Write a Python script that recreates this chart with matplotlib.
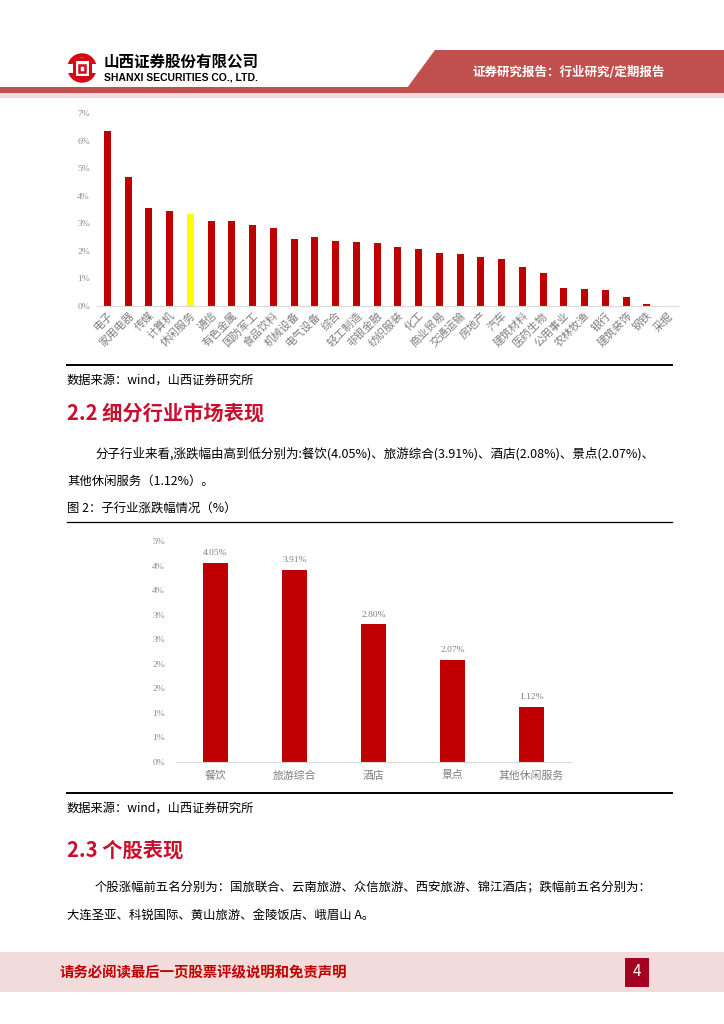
import math
import matplotlib
matplotlib.use("Agg")
import matplotlib.pyplot as plt
from matplotlib.patches import Polygon, Rectangle, Circle
from matplotlib.ticker import FuncFormatter, MultipleLocator

plt.rcParams['font.family'] = ['Noto Sans CJK SC', 'DejaVu Sans']

# ---------------- data ----------------
industries = ["电子", "家用电器", "传媒", "计算机", "休闲服务", "通信", "有色金属", "国防军工",
              "食品饮料", "机械设备", "电气设备", "综合", "轻工制造", "非银金融", "纺织服装",
              "化工", "商业贸易", "交通运输", "房地产", "汽车", "建筑材料", "医药生物",
              "公用事业", "农林牧渔", "银行", "建筑装饰", "钢铁", "采掘"]
industry_returns = [6.34, 4.68, 3.55, 3.43, 3.33, 3.09, 3.08, 2.95, 2.83, 2.43, 2.50, 2.36,
                    2.32, 2.27, 2.15, 2.08, 1.94, 1.88, 1.77, 1.71, 1.43, 1.19, 0.66, 0.61,
                    0.58, 0.34, 0.08, 0.0]
highlight = "休闲服务"

sub_industries = ["餐饮", "旅游综合", "酒店", "景点", "其他休闲服务"]
sub_returns = [4.05, 3.91, 2.80, 2.07, 1.12]

RED = "#C00000"
W, H = 724, 1024
fig = plt.figure(figsize=(W / 100, H / 100), dpi=100)

# overlay axes in pixel coordinates
ov = fig.add_axes([0, 0, 1, 1], zorder=-1)
ov.set_xlim(0, W)
ov.set_ylim(H, 0)
ov.axis("off")

# ---------------- header ----------------
ov.add_patch(Polygon([(435, 50), (W, 50), (W, 88), (407, 88)], closed=True,
                     facecolor="#C0504D", edgecolor="none"))
ov.add_patch(Rectangle((0, 87), W, 6, facecolor="#C0504D", edgecolor="none"))
ov.add_patch(Rectangle((0, 93), W, 5, facecolor="#F2DCDB", edgecolor="none"))
ov.text(569, 72, "证券研究报告：行业研究/定期报告", color="white", fontsize=9.0,
        fontweight="bold", ha="center", va="center")
# logo
logo_red = "#D40A14"
ov.add_patch(Circle((82, 68), 12.5, facecolor="none", edgecolor=logo_red, lw=3.2))
ov.add_patch(Rectangle((66, 63.5), 32, 9, facecolor="white", edgecolor="none"))
ov.add_patch(Rectangle((74, 59), 16, 18, facecolor="none", edgecolor=logo_red, lw=2.2))
ov.add_patch(Rectangle((79, 64.5), 6, 7, facecolor="none", edgecolor=logo_red, lw=1.8))
ov.text(104, 62, "山西证券股份有限公司", color="black", fontsize=11.2, fontweight="bold",
        ha="left", va="center")
ov.text(104, 77, "SHANXI SECURITIES CO., LTD.", color="black", fontsize=7.5,
        fontweight="bold", ha="left", va="center", family=["Liberation Sans", "DejaVu Sans"])

# ---------------- chart 1 ----------------
ax1 = fig.add_axes([97 / W, 1 - 306 / H, 581 / W, 193 / H])
x1 = list(range(len(industries)))
colors1 = ["#FFFF00" if n == highlight else RED for n in industries]
ax1.bar(x1, industry_returns, width=0.33, color=colors1, edgecolor="none")
ax1.set_xlim(-0.5, len(industries) - 0.5)
ax1.set_ylim(0, 7)
ax1.yaxis.set_major_locator(MultipleLocator(1))
ax1.yaxis.set_major_formatter(FuncFormatter(lambda v, p: f"{int(round(v))}%"))
ax1.set_xticks(x1)
ax1.set_xticklabels(industries, rotation=45, ha="right", rotation_mode="anchor",
                    fontsize=7.9, color="#7F7F7F")
for lab in ax1.get_yticklabels():
    lab.set_fontsize(6.8)
    lab.set_color("#8C8C8C")
    lab.set_family(["Liberation Serif", "DejaVu Serif"])
ax1.tick_params(axis="both", length=0)
ax1.tick_params(axis="y", pad=5)
ax1.tick_params(axis="x", pad=3)
for s in ["top", "right", "left"]:
    ax1.spines[s].set_visible(False)
ax1.spines["bottom"].set_color("#D9D9D9")
ax1.patch.set_alpha(0)

# ---------------- text block ----------------
ov.plot([67, 672], [365, 365], color="black", lw=1.4)
ov.text(67, 380, "数据来源：wind，山西证券研究所", fontsize=8.8, ha="left", va="center")
ov.text(67, 413, "2.2 细分行业市场表现", fontsize=14.6, fontweight="bold", color="#C8102E",
        ha="left", va="center")
ov.text(95, 454, "分子行业来看,涨跌幅由高到低分别为:餐饮(4.05%)、旅游综合(3.91%)、酒店(2.08%)、景点(2.07%)、",
        fontsize=9.0, ha="left", va="center")
ov.text(67, 481, "其他休闲服务（1.12%）。", fontsize=8.9, ha="left", va="center")
ov.text(67, 509, "图 2：子行业涨跌幅情况（%）", fontsize=8.9, ha="left", va="center")
ov.plot([67, 672], [522, 522], color="black", lw=0.9)

# ---------------- chart 2 ----------------
ax2 = fig.add_axes([176 / W, 1 - 762 / H, 395 / W, 221 / H])
x2 = list(range(len(sub_industries)))
ax2.bar(x2, sub_returns, width=0.32, color=RED, edgecolor="none")
for xi, v in zip(x2, sub_returns):
    ax2.text(xi, v + 0.12, f"{v:.2f}%", ha="center", va="bottom", fontsize=6.8,
             color="#7F7F7F", family=["Liberation Serif", "DejaVu Serif"])
ax2.set_xlim(-0.5, len(sub_industries) - 0.5)
ax2.set_ylim(0, 4.5)
ax2.yaxis.set_major_locator(MultipleLocator(0.5))
ax2.yaxis.set_major_formatter(FuncFormatter(lambda v, p: f"{int(math.floor(v + 0.5 + 1e-9))}%"))
ax2.set_xticks(x2)
ax2.set_xticklabels(sub_industries, fontsize=7.8, color="#7F7F7F")
for lab in ax2.get_yticklabels():
    lab.set_fontsize(6.8)
    lab.set_color("#8C8C8C")
    lab.set_family(["Liberation Serif", "DejaVu Serif"])
ax2.tick_params(axis="both", length=0)
ax2.tick_params(axis="y", pad=8)
ax2.tick_params(axis="x", pad=6)
for s in ["top", "right", "left"]:
    ax2.spines[s].set_visible(False)
ax2.spines["bottom"].set_color("#D9D9D9")
ax2.patch.set_alpha(0)

# ---------------- bottom text ----------------
ov.plot([67, 672], [793, 793], color="black", lw=1.4)
ov.text(67, 808, "数据来源：wind，山西证券研究所", fontsize=8.8, ha="left", va="center")
ov.text(67, 850, "2.3 个股表现", fontsize=14.6, fontweight="bold", color="#C8102E",
        ha="left", va="center")
ov.text(95, 888, "个股涨幅前五名分别为：国旅联合、云南旅游、众信旅游、西安旅游、锦江酒店；跌幅前五名分别为：",
        fontsize=8.9, ha="left", va="center")
ov.text(67, 915, "大连圣亚、科锐国际、黄山旅游、金陵饭店、峨眉山 A。", fontsize=8.9,
        ha="left", va="center")

# ---------------- footer ----------------
ov.add_patch(Rectangle((0, 952), W, 40, facecolor="#F2DCDB", edgecolor="none"))
ov.text(60, 973, "请务必阅读最后一页股票评级说明和免责声明", fontsize=10.4, fontweight="bold",
        color=RED, ha="left", va="center", style="italic")
ov.add_patch(Rectangle((625, 958), 24, 29, facecolor="#A50021", edgecolor="none"))
ov.text(637, 972, "4", fontsize=11, color="white", ha="center", va="center")

fig.savefig("out.png", dpi=100)
